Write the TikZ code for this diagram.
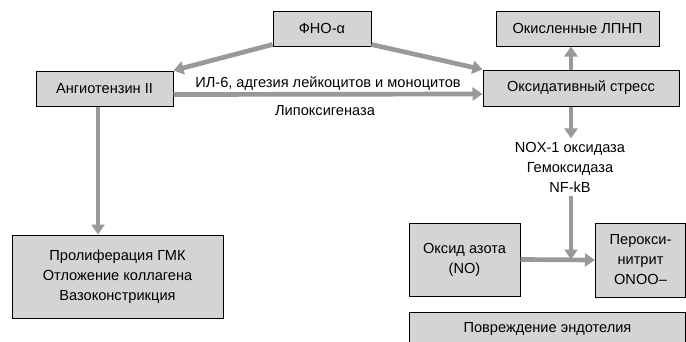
\documentclass[tikz,border=0pt]{standalone}
\usepackage{fontspec}
\setmainfont{Liberation Sans}
\usetikzlibrary{arrows.meta}
\definecolor{boxgray}{HTML}{D4D4D4}
\definecolor{arrgray}{HTML}{999999}

\begin{document}
\begin{tikzpicture}[x=1pt,y=-1pt,
  box/.style={draw,line width=1pt,fill=boxgray,align=center,inner sep=2pt,font=\fontsize{14.6}{20}\selectfont},
  arr/.style={arrgray,line width=4.7pt,-{Triangle[width=13pt,length=10pt]}},
  lbl/.style={text=black,font=\fontsize{14.6}{20}\selectfont,align=center}]
  \useasboundingbox (0,0) rectangle (686,341);
  % boxes
  \node[box,minimum width=98pt,minimum height=35pt] (fno) at (322,28.5) {ФНО-α};
  \node[box,minimum width=137pt,minimum height=35pt] (angio) at (104.5,88.5) {Ангиотензин II};
  \node[box,minimum width=163pt,minimum height=35pt] (ldl) at (577.5,28.5) {Окисленные ЛПНП};
  \node[box,minimum width=196pt,minimum height=36pt] (stress) at (581,88) {Оксидативный стресс};
  \node[box,minimum width=211pt,minimum height=83pt] (prolif) at (117.5,276.5) {Пролиферация ГМК\\Отложение коллагена\\Вазоконстрикция};
  \node[box,minimum width=111pt,minimum height=73pt] (no) at (464.5,259.5) {Оксид азота\\(NO)};
  \node[box,minimum width=90pt,minimum height=74pt] (onoo) at (640.5,260) {Перокси-\\нитрит\\ONOO–};
  \node[box,minimum width=276pt,minimum height=33pt,anchor=north west] (endo) at (409,312) {Повреждение эндотелия};
  \node[lbl] (enz) at (570,167) {NOX-1 оксидаза\\Гемоксидаза\\NF-kB};
  % arrows
  \draw[arr] ([yshift=2pt]fno.south west) -- (angio.north east);
  \draw[arr] ([yshift=2pt]fno.south east) -- (stress.north west);
  \draw[arr] ([yshift=-6pt]angio.east) -- ([yshift=-6pt]stress.west)
    node[lbl,midway,above=-2pt] (il) {ИЛ-6, адгезия лейкоцитов и моноцитов}
    node[lbl,midway,below=6pt,xshift=-3pt] (lox) {Липоксигеназа};
  \draw[arr] ([xshift=-10pt]stress.north) -- ([xshift=-10pt]stress.north |- ldl.south);
  \draw[arr] ([xshift=-10pt]stress.south) -- ([xshift=-10pt]stress.south |- enz.north);
  \draw[arr] ([xshift=-10pt]stress.south |- enz.south) -- ([xshift=-10pt]stress.south |- no.east);
  \draw[arr] (no.east) -- (onoo.west);
  \draw[arr] ([xshift=-6.5pt]angio.south) -- ([xshift=-6.5pt]angio.south |- prolif.north);
\end{tikzpicture}
\end{document}
